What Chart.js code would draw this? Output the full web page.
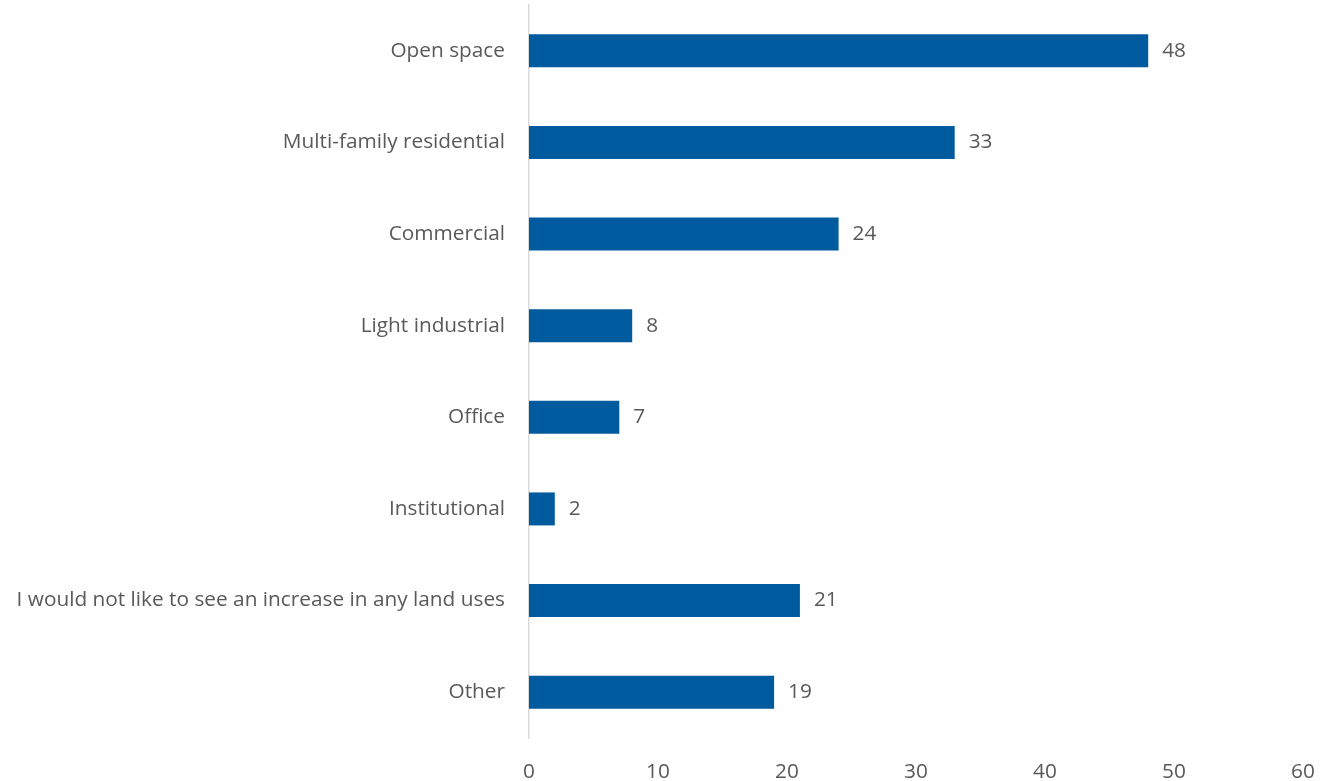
<!DOCTYPE html>
<html>
<head>
<meta charset="utf-8">
<script src="https://cdn.jsdelivr.net/npm/chart.js@4"></script>
<style>
html,body{margin:0;padding:0;background:#fff;}
#wrap{width:1320px;height:781px;}
</style>
</head>
<body>
<div id="wrap"><canvas id="c" width="1320" height="781"></canvas></div>
<script>
const categories = ["Open space","Multi-family residential","Commercial","Light industrial","Office","Institutional","I would not like to see an increase in any land uses","Other"];
const values = [48,33,24,8,7,2,21,19];
const xTicks = [0,10,20,30,40,50,60];

const FONT = '"Open Sans", sans-serif';
const FSIZE = 20.8;

const labelPlugin = {
  id: 'barLabels',
  afterDatasetsDraw(chart) {
    const ctx = chart.ctx;
    const meta = chart.getDatasetMeta(0);
    const xs = chart.scales.x;
    ctx.save();
    ctx.font = FSIZE + 'px ' + FONT;
    ctx.fillStyle = '#595959';
    ctx.textAlign = 'left';
    ctx.textBaseline = 'middle';
    meta.data.forEach((bar, i) => {
      const x = xs.getPixelForValue(values[i]);
      ctx.fillText(String(values[i]), x + 14, bar.y);
    });
    ctx.restore();
  }
};

new Chart(document.getElementById('c'), {
  type: 'bar',
  data: {
    labels: categories,
    datasets: [{
      data: values,
      backgroundColor: '#005A9E',
      categoryPercentage: 1,
      barPercentage: 0.36
    }]
  },
  options: {
    indexAxis: 'y',
    responsive: false,
    animation: false,
    layout: { padding: { top: 5, right: 17, left: 0, bottom: 0 } },
    plugins: { legend: { display: false }, tooltip: { enabled: false } },
    scales: {
      x: {
        min: 0, max: 60,
        afterBuildTicks(s) { s.ticks = xTicks.map(v => ({ value: v })); },
        afterFit(s) { s.height = 43; s.paddingLeft = 0; s.paddingRight = 0; },
        grid: { display: false, drawTicks: false },
        border: { display: false },
        ticks: { color: '#595959', font: { size: FSIZE, family: FONT }, padding: 22, maxRotation: 0 }
      },
      y: {
        afterFit(s) { s.width = 529; s.paddingTop = 0; s.paddingBottom = 0; },
        grid: { display: false, drawTicks: false },
        border: { display: true, color: '#d9d9d9', width: 1.5 },
        ticks: { color: '#595959', font: { size: FSIZE, family: FONT }, padding: 24 }
      }
    }
  },
  plugins: [labelPlugin]
});
</script>
</body>
</html>
